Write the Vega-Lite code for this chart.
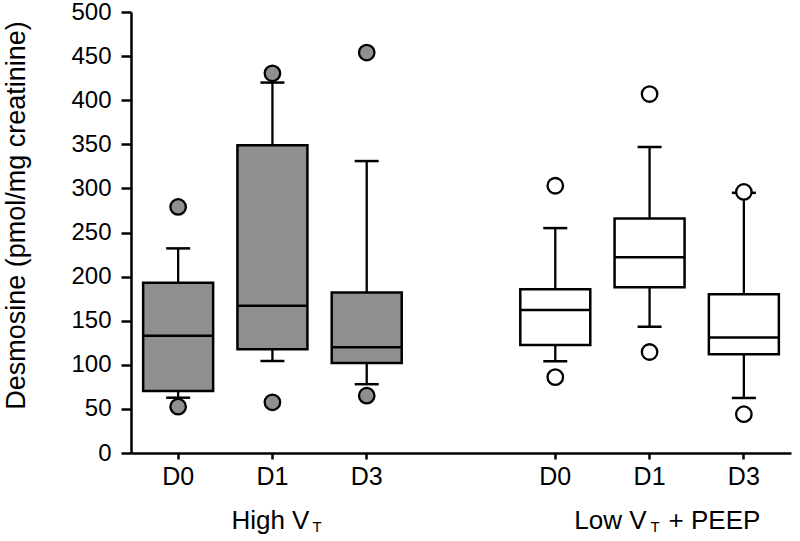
{
  "$schema": "https://vega.github.io/schema/vega-lite/v6.json",
  "width": 660,
  "height": 441,
  "autosize": {"type": "none"},
  "padding": {"left": 131, "top": 12, "right": 9, "bottom": 88},
  "background": "white",
  "config": {
    "view": {"stroke": null},
    "font": "Liberation Sans",
    "axis": {
      "domainColor": "black", "tickColor": "black", "labelColor": "black", "titleColor": "black",
      "domainWidth": 2.5, "tickWidth": 2.5, "grid": false,
      "labelFont": "Liberation Sans", "titleFont": "Liberation Sans"
    }
  },
  "datasets": {
    "boxes": [
      {"key": "High D0", "group": "High", "lower": 62.7, "q1": 70.3, "median": 133, "q3": 193, "upper": 232},
      {"key": "High D1", "group": "High", "lower": 104.3, "q1": 117.6, "median": 167, "q3": 349, "upper": 420},
      {"key": "High D3", "group": "High", "lower": 78, "q1": 102, "median": 120, "q3": 182, "upper": 331},
      {"key": "Low D0", "group": "Low", "lower": 104, "q1": 122.4, "median": 162, "q3": 185.6, "upper": 255},
      {"key": "Low D1", "group": "Low", "lower": 143, "q1": 188, "median": 222, "q3": 266, "upper": 347},
      {"key": "Low D3", "group": "Low", "lower": 62.4, "q1": 112, "median": 131, "q3": 180, "upper": 295}
    ],
    "outliers": [
      {"key": "High D0", "group": "High", "value": 279},
      {"key": "High D0", "group": "High", "value": 52.5},
      {"key": "High D1", "group": "High", "value": 430.5},
      {"key": "High D1", "group": "High", "value": 57.5},
      {"key": "High D3", "group": "High", "value": 454},
      {"key": "High D3", "group": "High", "value": 65},
      {"key": "Low D0", "group": "Low", "value": 303},
      {"key": "Low D0", "group": "Low", "value": 86},
      {"key": "Low D1", "group": "Low", "value": 407},
      {"key": "Low D1", "group": "Low", "value": 114.5},
      {"key": "Low D3", "group": "Low", "value": 296},
      {"key": "Low D3", "group": "Low", "value": 44}
    ]
  },
  "encoding": {
    "x": {
      "field": "key", "type": "nominal",
      "scale": {"type": "band", "domain": ["High D0", "High D1", "High D3", "gap", "Low D0", "Low D1", "Low D3"], "paddingInner": 0, "paddingOuter": 0},
      "axis": {
        "values": ["High D0", "High D1", "High D3", "Low D0", "Low D1", "Low D3"],
        "labelExpr": "split(datum.value, ' ')[1]",
        "title": null, "tickSize": 6, "labelFontSize": 25, "labelPadding": 5, "labelAngle": 0
      }
    }
  },
  "layer": [
    {
      "data": {"name": "boxes"},
      "mark": {"type": "rule", "color": "black", "strokeWidth": 2.3},
      "encoding": {
        "y": {"field": "upper", "type": "quantitative",
          "scale": {"domain": [0, 500], "nice": false},
          "title": "Desmosine (pmol/mg creatinine)",
          "axis": {
            "values": [0, 50, 100, 150, 200, 250, 300, 350, 400, 450, 500],
            "tickSize": 10, "labelFontSize": 24, "labelPadding": 10,
            "titleFontSize": 27, "titleFontWeight": "normal",
            "titleX": -101, "titleY": 203, "titleAngle": -90, "titleAlign": "center", "titleBaseline": "bottom"
          }
        },
        "y2": {"field": "lower"}
      }
    },
    {
      "data": {"name": "boxes"},
      "mark": {"type": "bar", "width": 70, "stroke": "black", "strokeWidth": 2.5},
      "encoding": {
        "y": {"field": "q1", "type": "quantitative", "title": "Desmosine (pmol/mg creatinine)"},
        "y2": {"field": "q3"},
        "fill": {"field": "group", "type": "nominal", "scale": {"domain": ["High", "Low"], "range": ["#8f8f8f", "#ffffff"]}, "legend": null}
      }
    },
    {
      "data": {"name": "boxes"},
      "mark": {"type": "tick", "orient": "horizontal", "size": 70, "thickness": 2.5, "color": "black", "opacity": 1},
      "encoding": {"y": {"field": "median", "type": "quantitative", "title": "Desmosine (pmol/mg creatinine)"}}
    },
    {
      "data": {"name": "boxes"},
      "mark": {"type": "tick", "orient": "horizontal", "size": 24, "thickness": 2.5, "color": "black", "opacity": 1},
      "encoding": {"y": {"field": "upper", "type": "quantitative", "title": "Desmosine (pmol/mg creatinine)"}}
    },
    {
      "data": {"name": "boxes"},
      "mark": {"type": "tick", "orient": "horizontal", "size": 24, "thickness": 2.5, "color": "black", "opacity": 1},
      "encoding": {"y": {"field": "lower", "type": "quantitative", "title": "Desmosine (pmol/mg creatinine)"}}
    },
    {
      "data": {"name": "outliers"},
      "mark": {"type": "point", "shape": "circle", "size": 240, "stroke": "black", "strokeWidth": 2.3, "filled": false, "opacity": 1},
      "encoding": {
        "y": {"field": "value", "type": "quantitative", "title": "Desmosine (pmol/mg creatinine)"},
        "fill": {"field": "group", "type": "nominal", "legend": null}
      }
    },
    {
      "data": {"values": [{"key": "High D1", "text": "High V"}]},
      "mark": {"type": "text", "align": "right", "baseline": "alphabetic", "dx": 37, "dy": 76, "fontSize": 26, "color": "black"},
      "encoding": {"y": {"datum": 0}, "text": {"field": "text"}}
    },
    {
      "data": {"values": [{"key": "High D1", "text": "T"}]},
      "mark": {"type": "text", "align": "left", "baseline": "alphabetic", "dx": 40, "dy": 79, "fontSize": 15, "color": "black"},
      "encoding": {"y": {"datum": 0}, "text": {"field": "text"}}
    },
    {
      "data": {"values": [{"key": "Low D1", "text": "Low V"}]},
      "mark": {"type": "text", "align": "right", "baseline": "alphabetic", "dx": -3, "dy": 76, "fontSize": 26, "color": "black"},
      "encoding": {"y": {"datum": 0}, "text": {"field": "text"}}
    },
    {
      "data": {"values": [{"key": "Low D1", "text": "T"}]},
      "mark": {"type": "text", "align": "left", "baseline": "alphabetic", "dx": 1, "dy": 79, "fontSize": 15, "color": "black"},
      "encoding": {"y": {"datum": 0}, "text": {"field": "text"}}
    },
    {
      "data": {"values": [{"key": "Low D1", "text": "+ PEEP"}]},
      "mark": {"type": "text", "align": "left", "baseline": "alphabetic", "dx": 19, "dy": 76, "fontSize": 26, "color": "black"},
      "encoding": {"y": {"datum": 0}, "text": {"field": "text"}}
    }
  ]
}
